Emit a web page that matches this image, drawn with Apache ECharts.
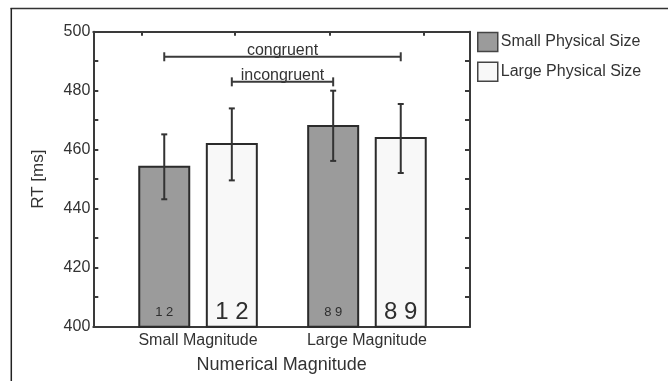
<!DOCTYPE html>
<html>
<head>
<meta charset="utf-8">
<script src="https://cdn.jsdelivr.net/npm/echarts@6/dist/echarts.min.js"></script>
<style>
html,body{margin:0;padding:0;background:#fff;}
#chart{width:668px;height:381px;}
</style>
</head>
<body>
<div id="chart"></div>
<script>
// ---- data ----
const groups = ['Small Magnitude', 'Large Magnitude'];
const groupX = [1, 2];
const seriesNames = ['Small Physical Size', 'Large Physical Size'];
const smallSizeRT = [454.2, 468.0];
const smallSizeUpper = [465.2, 480.0];
const smallSizeLower = [443.2, 456.2];
const largeSizeRT = [461.9, 464.0];
const largeSizeUpper = [474.0, 475.5];
const largeSizeLower = [449.6, 452.1];
const smallSizeDigits = ['1 2', '8 9'];
const largeSizeDigits = ['1 2', '8 9'];
const bracketNames = ['congruent', 'incongruent'];
const bracketY = [491.5, 483.0];
const bracketFrom = [0.8, 1.2];
const bracketTo = [2.2, 1.8];
const yTicks = [400, 420, 440, 460, 480, 500];

// ---- layout constants ----
const OFF = 0.2, BW = 0.296, BASE = 400;
const FONT = '"Liberation Sans", Arial, sans-serif';
const INK = '#333';

function barSeries(name, values, digits, offset, fill, digitSize, digitLift) {
  return {
    type: 'custom', name: name, xAxisIndex: 0, yAxisIndex: 0,
    itemStyle: { color: fill, borderColor: '#2b2b2b', borderWidth: 1.5 },
    data: groupX.map((x, i) => [x, values[i], digits[i]]),
    renderItem: function (params, api) {
      const x = api.value(0) + offset;
      const p0 = api.coord([x - BW / 2, BASE]);
      const p1 = api.coord([x + BW / 2, api.value(1)]);
      const label = digits[params.dataIndex];
      return {
        type: 'group',
        children: [
          { type: 'rect',
            shape: { x: p0[0], y: p1[1], width: p1[0] - p0[0], height: p0[1] - p1[1] },
            style: { fill: fill, stroke: '#2b2b2b', lineWidth: 2 } },
          { type: 'text',
            style: { text: label, x: (p0[0] + p1[0]) / 2, y: p0[1] - digitLift,
              align: 'center', verticalAlign: 'bottom',
              font: digitSize + 'px ' + FONT, fill: '#2e2e2e' } }
        ]
      };
    },
    z: 2
  };
}

function errSeries(means, lower, upper, offset) {
  return {
    type: 'custom', xAxisIndex: 0, yAxisIndex: 0, silent: true,
    data: groupX.map((x, i) => [x, lower[i], upper[i]]),
    renderItem: function (params, api) {
      const x = api.value(0) + offset;
      const lo = api.coord([x, api.value(1)]);
      const hi = api.coord([x, api.value(2)]);
      const st = { stroke: '#333', lineWidth: 2 };
      return {
        type: 'group',
        children: [
          { type: 'line', shape: { x1: lo[0], y1: lo[1], x2: hi[0], y2: hi[1] }, style: st },
          { type: 'line', shape: { x1: lo[0] - 3, y1: lo[1], x2: lo[0] + 3, y2: lo[1] }, style: st },
          { type: 'line', shape: { x1: hi[0] - 3, y1: hi[1], x2: hi[0] + 3, y2: hi[1] }, style: st }
        ]
      };
    },
    z: 3
  };
}

const bracketSeries = {
  type: 'custom', xAxisIndex: 0, yAxisIndex: 0, silent: true,
  data: bracketNames.map((n, i) => [bracketFrom[i], bracketTo[i], bracketY[i]]),
  renderItem: function (params, api) {
    const a = api.coord([api.value(0), api.value(2)]);
    const b = api.coord([api.value(1), api.value(2)]);
    const st = { stroke: '#3a3a3a', lineWidth: 2 };
    return {
      type: 'group',
      children: [
        { type: 'text', style: { text: bracketNames[params.dataIndex],
            x: (a[0] + b[0]) / 2, y: a[1] + 2, align: 'center', verticalAlign: 'bottom',
            font: '16px ' + FONT, fill: INK } },
        { type: 'line', shape: { x1: a[0], y1: a[1], x2: b[0], y2: b[1] }, style: st },
        { type: 'line', shape: { x1: a[0], y1: a[1] - 4.5, x2: a[0], y2: a[1] + 4.5 }, style: st },
        { type: 'line', shape: { x1: b[0], y1: b[1] - 4.5, x2: b[0], y2: b[1] + 4.5 }, style: st }
      ]
    };
  },
  z: 4
};

const chart = echarts.init(document.getElementById('chart'), null, { renderer: 'canvas' });
const axisLineStyle = { color: '#3a3a3a', width: 2 };
chart.setOption({
  animation: false,
  backgroundColor: '#fff',
  textStyle: { fontFamily: FONT },
  grid: { left: 93.3, right: 198, top: 31.7, bottom: 54.3, containLabel: false },
  legend: {
    orient: 'vertical', left: 477, top: 31.7, padding: 0,
    itemWidth: 20, itemHeight: 19, itemGap: 9.3,
    textStyle: { fontSize: 16, color: INK, fontFamily: FONT, padding: [0, 0, 0, -2] },
    data: [
      { name: seriesNames[0], icon: 'rect', itemStyle: { color: '#9b9b9b', borderColor: '#444', borderWidth: 1.5 } },
      { name: seriesNames[1], icon: 'rect', itemStyle: { color: '#f8f8f8', borderColor: '#444', borderWidth: 1.5 } }
    ]
  },
  xAxis: [
    {
      type: 'value', position: 'bottom', min: 0.38, max: 2.61,
      axisLine: { show: true, onZero: false, lineStyle: axisLineStyle },
      axisTick: { show: false },
      splitLine: { show: false },
      axisLabel: {
        customValues: groupX,
        formatter: function (v) { const i = groupX.indexOf(v); return i >= 0 ? groups[i] : ''; },
        fontSize: 16, color: INK, margin: 6, fontFamily: FONT
      },
      name: 'Numerical Magnitude', nameLocation: 'middle', nameGap: 29,
      nameTextStyle: { fontSize: 18, color: INK, fontFamily: FONT }
    },
    {
      type: 'value', position: 'top', min: 0.38, max: 2.61,
      axisLine: { show: true, onZero: false, lineStyle: axisLineStyle },
      axisTick: { show: true, inside: true, length: 4, customValues: [0.667, 1.219, 1.782, 2.338], lineStyle: axisLineStyle },
      axisLabel: { show: false },
      splitLine: { show: false }
    }
  ],
  yAxis: [
    {
      type: 'value', min: yTicks[0], max: yTicks[yTicks.length - 1], interval: 20,
      axisLine: { show: true, lineStyle: axisLineStyle },
      axisTick: { show: true, inside: true, length: 5, lineStyle: axisLineStyle },
      minorTick: { show: true, splitNumber: 2, length: 5, lineStyle: { color: '#3a3a3a', width: 2 } },
      splitLine: { show: false },
      axisLabel: { fontSize: 16, color: INK, margin: 3, fontFamily: FONT },
      name: 'RT [ms]', nameLocation: 'middle', nameRotate: 90, nameGap: 46,
      nameTextStyle: { fontSize: 17, color: INK, fontFamily: FONT }
    },
    {
      type: 'value', position: 'right', min: yTicks[0], max: yTicks[yTicks.length - 1], interval: 20,
      axisLine: { show: true, lineStyle: axisLineStyle },
      axisTick: { show: true, inside: true, length: 5, lineStyle: axisLineStyle },
      minorTick: { show: true, splitNumber: 2, length: 5, lineStyle: { color: '#3a3a3a', width: 2 } },
      splitLine: { show: false },
      axisLabel: { show: false }
    }
  ],
  series: [
    barSeries(seriesNames[0], smallSizeRT, smallSizeDigits, -OFF, '#9b9b9b', 13, 8),
    barSeries(seriesNames[1], largeSizeRT, largeSizeDigits, OFF, '#f8f8f8', 24, 2),
    errSeries(smallSizeRT, smallSizeLower, smallSizeUpper, -OFF),
    errSeries(largeSizeRT, largeSizeLower, largeSizeUpper, OFF),
    bracketSeries
  ],
  graphic: [
    { type: 'line', shape: { x1: 10.5, y1: 8.5, x2: 668, y2: 8.5 }, style: { stroke: '#333', lineWidth: 1.5 } },
    { type: 'line', shape: { x1: 11.3, y1: 8, x2: 11.3, y2: 381 }, style: { stroke: '#222', lineWidth: 1.5 } }
  ]
});
</script>
</body>
</html>
